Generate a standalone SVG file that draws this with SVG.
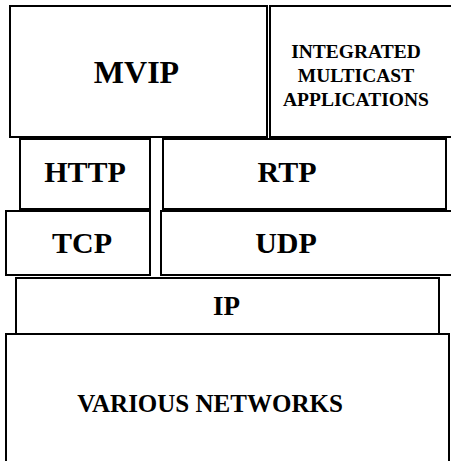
<svg xmlns="http://www.w3.org/2000/svg" width="451" height="461" viewBox="0 0 451 461">
<style>
.box{fill:#fff;stroke:#000;stroke-width:2}
.t{font-family:"Liberation Serif","Times New Roman",serif;font-weight:bold;fill:#000;text-anchor:middle}
</style>
<rect width="451" height="461" fill="#fff"/>
<g id="connectors"/>
<g id="mvip"><rect class="box" x="10" y="6" width="257" height="131"/><text class="t" x="136.5" y="83" font-size="32">MVIP</text></g>
<g id="integrated"><rect class="box" x="270" y="6" width="190" height="131"/>
<text class="t" x="356" y="58" font-size="19.5">INTEGRATED</text>
<text class="t" x="356" y="82" font-size="19.5">MULTICAST</text>
<text class="t" x="356" y="106" font-size="19.5">APPLICATIONS</text></g>
<g id="http"><rect class="box" x="20" y="139" width="130" height="70"/><text class="t" x="85" y="182" font-size="30">HTTP</text></g>
<g id="rtp"><rect class="box" x="163" y="139" width="283" height="70"/><text class="t" x="287" y="182" font-size="30">RTP</text></g>
<g id="tcp"><rect class="box" x="6" y="211" width="144" height="64"/><text class="t" x="82" y="253" font-size="30">TCP</text></g>
<g id="udp"><rect class="box" x="161" y="211" width="300" height="64"/><text class="t" x="286" y="253" font-size="30">UDP</text></g>
<g id="ip"><rect class="box" x="16" y="278" width="423" height="56"/><text class="t" x="226.5" y="315" font-size="27">IP</text></g>
<g id="networks"><rect class="box" x="6" y="334" width="443" height="140"/><text class="t" x="210" y="412" font-size="25">VARIOUS NETWORKS</text></g>
</svg>
